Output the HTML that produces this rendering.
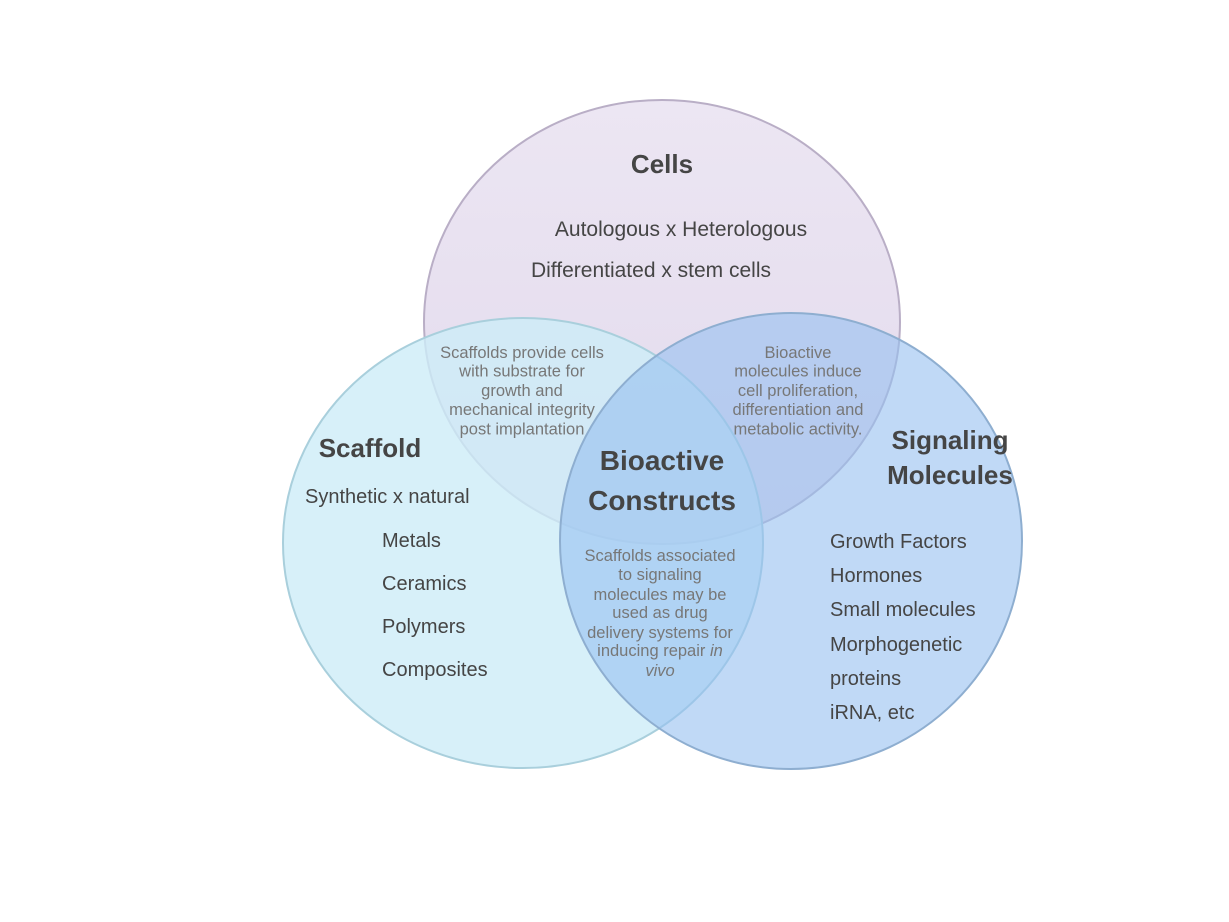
<!DOCTYPE html>
<html><head><meta charset="utf-8"><style>
html,body{margin:0;padding:0;background:#fff;}
svg{display:block;font-family:"Liberation Sans",sans-serif;}
</style></head><body>
<svg width="1229" height="922" viewBox="0 0 1229 922">
<defs>
<linearGradient id="gc" x1="0" y1="0" x2="0" y2="1"><stop offset="0" stop-color="#ece6f3"/><stop offset="1" stop-color="#e2d9ec"/></linearGradient>
</defs>
<ellipse cx="662" cy="322" rx="238" ry="222" fill="url(#gc)" stroke="#b9aec6" stroke-width="2"/>
<ellipse cx="523" cy="543" rx="240" ry="225" fill="rgba(205,236,248,0.8)" stroke="#a9cfdc" stroke-width="2"/>
<ellipse cx="791" cy="541" rx="231" ry="228" fill="rgba(150,192,240,0.6)" stroke="#8eaed0" stroke-width="2"/>
<g fill="#454545" font-size="21" text-anchor="middle">
<text x="662" y="173" font-weight="bold" font-size="26">Cells</text>
<text x="681" y="236">Autologous x Heterologous</text>
<text x="651" y="277">Differentiated x stem cells</text>
<text x="370" y="457" font-weight="bold" font-size="26">Scaffold</text>
<text x="662" y="470" font-weight="bold" font-size="28">Bioactive</text>
<text x="662" y="510" font-weight="bold" font-size="28">Constructs</text>
<text x="950" y="449" font-weight="bold" font-size="26">Signaling</text>
<text x="950" y="484" font-weight="bold" font-size="26">Molecules</text>
</g>
<g fill="#454545" font-size="20">
<text x="305" y="503">Synthetic x natural</text>
<text x="382" y="547">Metals</text>
<text x="382" y="590">Ceramics</text>
<text x="382" y="633">Polymers</text>
<text x="382" y="676">Composites</text>
<text x="830" y="548">Growth Factors</text>
<text x="830" y="582">Hormones</text>
<text x="830" y="616">Small molecules</text>
<text x="830" y="651">Morphogenetic</text>
<text x="830" y="685">proteins</text>
<text x="830" y="719">iRNA, etc</text>
</g>
<g fill="#777" font-size="16.5" text-anchor="middle">
<text x="522" y="358"><tspan x="522">Scaffolds provide cells</tspan><tspan x="522" dy="18.5">with substrate for</tspan><tspan x="522" dy="19.5">growth and</tspan><tspan x="522" dy="19">mechanical integrity</tspan><tspan x="522" dy="19.5">post implantation</tspan></text>
<text x="798" y="358"><tspan x="798">Bioactive</tspan><tspan x="798" dy="18.5">molecules induce</tspan><tspan x="798" dy="19.5">cell proliferation,</tspan><tspan x="798" dy="19">differentiation and</tspan><tspan x="798" dy="19.5">metabolic activity.</tspan></text>
<text x="660" y="561"><tspan x="660">Scaffolds associated</tspan><tspan x="660" dy="19">to signaling</tspan><tspan x="660" dy="20">molecules may be</tspan><tspan x="660" dy="18">used as drug</tspan><tspan x="660" dy="20">delivery systems for</tspan><tspan x="660" dy="18">inducing repair <tspan font-style="italic">in</tspan></tspan><tspan x="660" dy="20" font-style="italic">vivo</tspan></text>
</g>
</svg>
</body></html>
